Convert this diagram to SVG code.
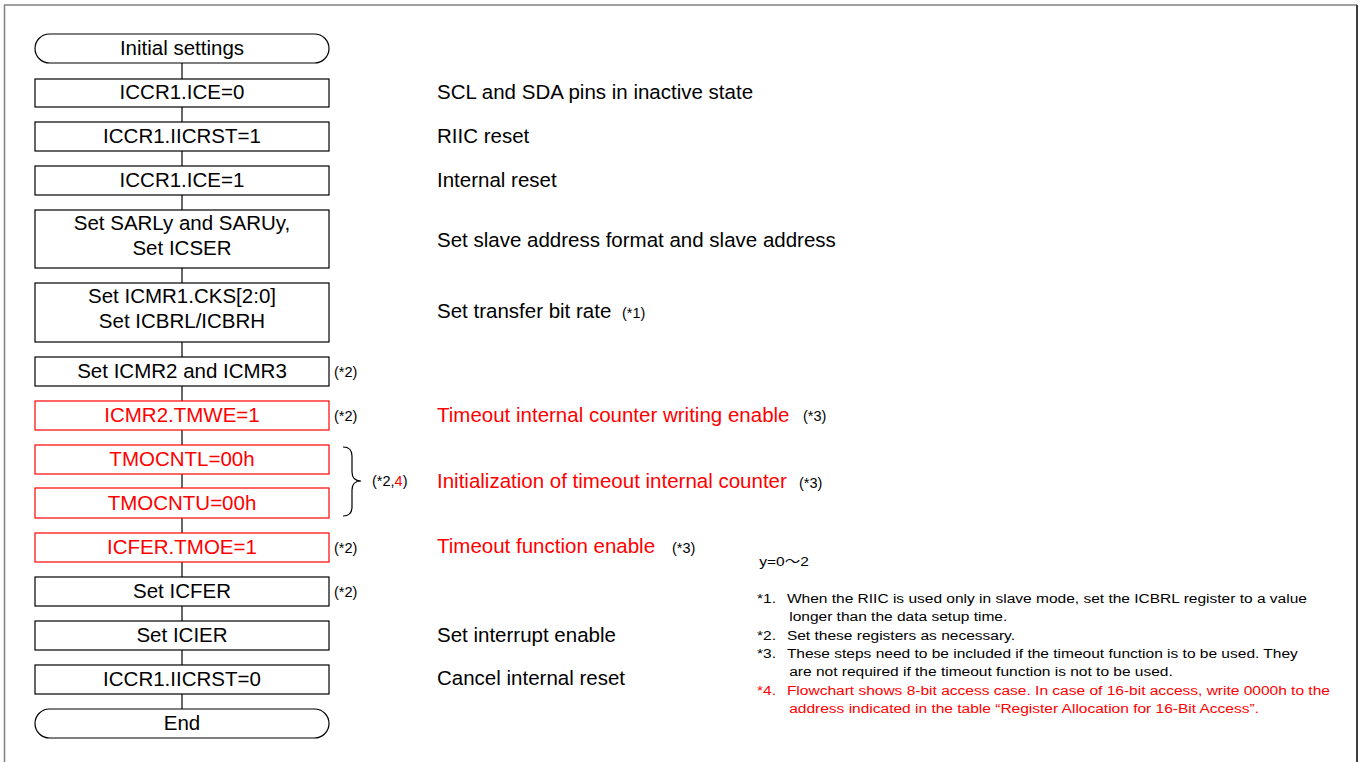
<svg xmlns="http://www.w3.org/2000/svg" width="1363" height="762" viewBox="0 0 1363 762">
<style>
text{font-family:"Liberation Sans",Arial,sans-serif;fill:#000}
.bt{font-size:20.5px;text-anchor:middle}
.dt{font-size:20.5px}
.sm{font-size:14.5px}
.nt{font-size:13.5px}
.red{fill:#ff0000}
.box{fill:#fff;stroke:#000;stroke-width:1.2}
.rbox{fill:#fff;stroke:#ff0000;stroke-width:1.2}
.conn{stroke:#000;stroke-width:1.2;fill:none}
</style>
<rect width="1363" height="762" fill="#fff"/>
<g id="frame" fill="none">
<line x1="4" y1="5" x2="1357" y2="5" stroke="#808080" stroke-width="1.5"/>
<line x1="4.5" y1="5" x2="4.5" y2="762" stroke="#808080" stroke-width="1.5"/>
<line x1="1357" y1="5" x2="1357" y2="762" stroke="#404040" stroke-width="2"/>
</g>
<g id="connectors">
<line class="conn" x1="182" y1="63" x2="182" y2="709"/>
<path class="conn" d="M343,447 Q352,447 352,456 L352,472 Q352,481 361,481 Q352,481 352,490 L352,507 Q352,516 343,516" stroke-width="1.5"/>
</g>
<g id="n_start"><rect class="box" x="35" y="34" width="294" height="29" rx="14.5" ry="14.5"/><text class="bt" x="182" y="55">Initial settings</text></g>
<g id="n_ice0"><rect class="box" x="35" y="79" width="294" height="28"/><text class="bt" x="182" y="99">ICCR1.ICE=0</text></g>
<g id="n_rst1"><rect class="box" x="35" y="122" width="294" height="29"/><text class="bt" x="182" y="143">ICCR1.IICRST=1</text></g>
<g id="n_ice1"><rect class="box" x="35" y="166" width="294" height="29"/><text class="bt" x="182" y="187">ICCR1.ICE=1</text></g>
<g id="n_sar"><rect class="box" x="35" y="210" width="294" height="58"/><text class="bt" x="182" y="230">Set SARLy and SARUy,</text><text class="bt" x="182" y="255">Set ICSER</text></g>
<g id="n_cks"><rect class="box" x="35" y="283" width="294" height="59"/><text class="bt" x="182" y="303">Set ICMR1.CKS[2:0]</text><text class="bt" x="182" y="328">Set ICBRL/ICBRH</text></g>
<g id="n_icmr"><rect class="box" x="35" y="357" width="294" height="29"/><text class="bt" x="182" y="378">Set ICMR2 and ICMR3</text></g>
<g id="n_tmwe"><rect class="rbox" x="35" y="401" width="294" height="29"/><text class="bt red" x="182" y="422">ICMR2.TMWE=1</text></g>
<g id="n_tmol"><rect class="rbox" x="35" y="445" width="294" height="29"/><text class="bt red" x="182" y="466">TMOCNTL=00h</text></g>
<g id="n_tmou"><rect class="rbox" x="35" y="488" width="294" height="30"/><text class="bt red" x="182" y="510">TMOCNTU=00h</text></g>
<g id="n_tmoe"><rect class="rbox" x="35" y="533" width="294" height="29"/><text class="bt red" x="182" y="554">ICFER.TMOE=1</text></g>
<g id="n_icfer"><rect class="box" x="35" y="577" width="294" height="29"/><text class="bt" x="182" y="598">Set ICFER</text></g>
<g id="n_icier"><rect class="box" x="35" y="621" width="294" height="29"/><text class="bt" x="182" y="642">Set ICIER</text></g>
<g id="n_rst0"><rect class="box" x="35" y="665" width="294" height="29"/><text class="bt" x="182" y="686">ICCR1.IICRST=0</text></g>
<g id="n_end"><rect class="box" x="35" y="709" width="294" height="29" rx="14.5" ry="14.5"/><text class="bt" x="182" y="730">End</text></g>
<g id="marks">
<text class="sm" x="334" y="376.5">(*2)</text>
<text class="sm" x="334" y="420.5">(*2)</text>
<text class="sm" x="372" y="486">(*2,<tspan class="red">4</tspan>)</text>
<text class="sm" x="334" y="552.5">(*2)</text>
<text class="sm" x="334" y="596.5">(*2)</text>
</g>
<g id="descriptions">
<text class="dt" x="437" y="99">SCL and SDA pins in inactive state</text>
<text class="dt" x="437" y="143">RIIC reset</text>
<text class="dt" x="437" y="186.5">Internal reset</text>
<text class="dt" x="437" y="246.5">Set slave address format and slave address</text>
<text class="dt" x="437" y="318">Set transfer bit rate</text>
<text class="sm" x="622" y="318">(*1)</text>
<text class="dt red" x="437" y="421.5">Timeout internal counter writing enable</text>
<text class="sm" x="803" y="421">(*3)</text>
<text class="dt red" x="437" y="488">Initialization of timeout internal counter</text>
<text class="sm" x="799" y="487.5">(*3)</text>
<text class="dt red" x="437" y="553">Timeout function enable</text>
<text class="sm" x="672" y="552.5">(*3)</text>
<text class="dt" x="437" y="641.5">Set interrupt enable</text>
<text class="dt" x="437" y="685">Cancel internal reset</text>
</g>
<g id="notes" transform="translate(757,0) scale(1.15,1) translate(-757,0)">
<text class="nt" x="759" y="566.5" style="font-family:'Liberation Sans','Noto Sans CJK JP',sans-serif">y=0～2</text>
<text class="nt" x="757" y="603.5">*1.</text>
<text class="nt" x="783" y="603.5">When the RIIC is used only in slave mode, set the ICBRL register to a value</text>
<text class="nt" x="785" y="621.5">longer than the data setup time.</text>
<text class="nt" x="757" y="640">*2.</text>
<text class="nt" x="783" y="640">Set these registers as necessary.</text>
<text class="nt" x="757" y="658">*3.</text>
<text class="nt" x="783" y="658">These steps need to be included if the timeout function is to be used. They</text>
<text class="nt" x="785" y="676">are not required if the timeout function is not to be used.</text>
<text class="nt red" x="757" y="695">*4.</text>
<text class="nt red" x="783" y="695">Flowchart shows 8-bit access case. In case of 16-bit access, write 0000h to the</text>
<text class="nt red" x="785" y="713">address indicated in the table “Register Allocation for 16-Bit Access”.</text>
</g>
</svg>
